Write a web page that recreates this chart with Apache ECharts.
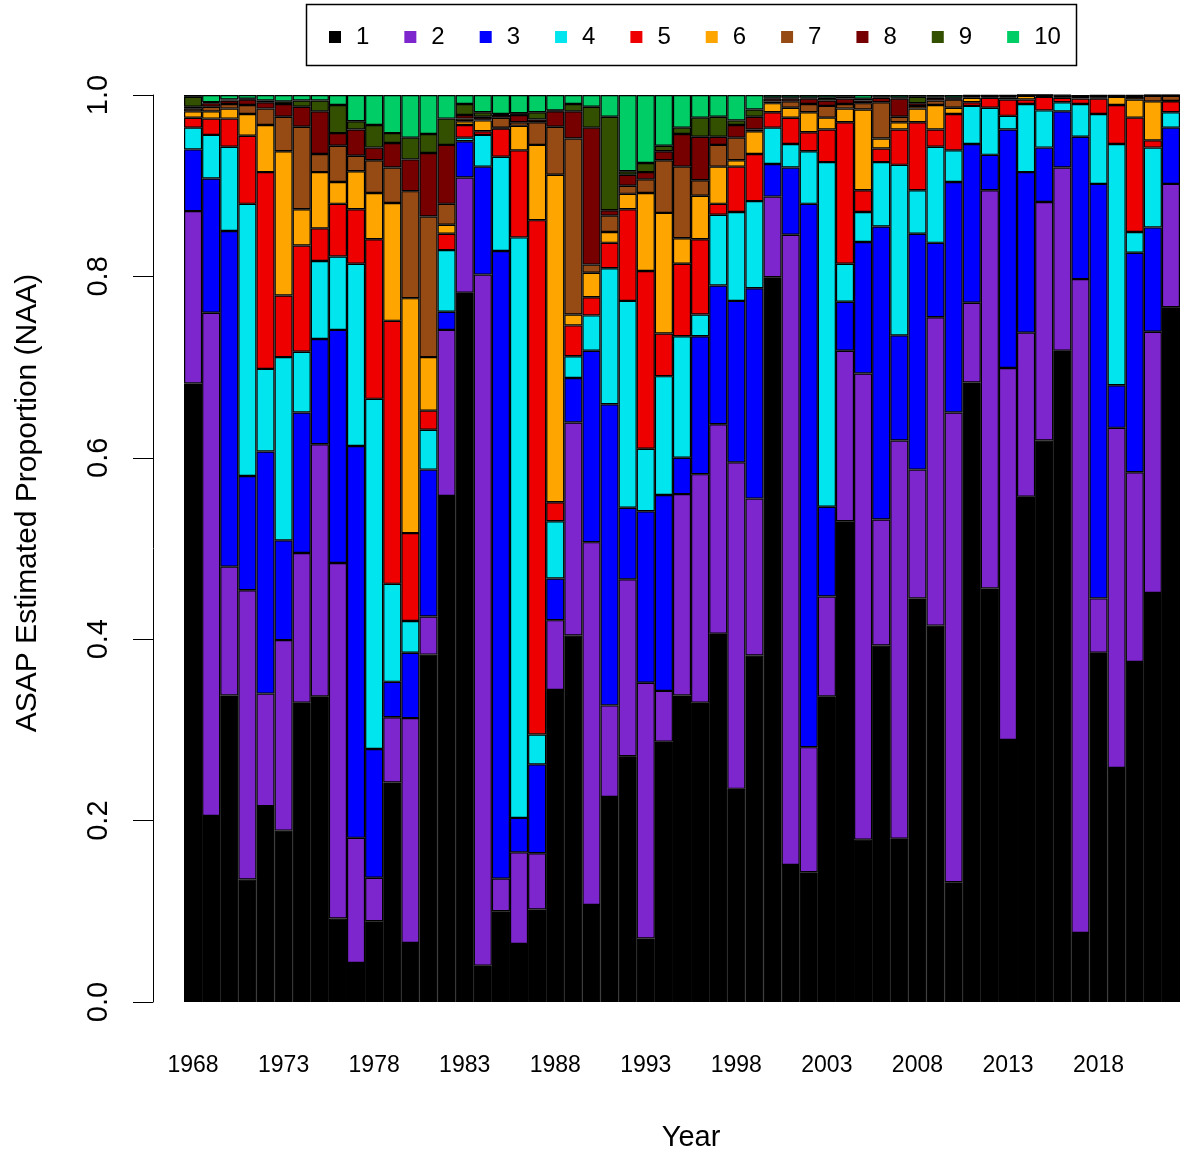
<!DOCTYPE html>
<html><head><meta charset="utf-8">
<script src="https://cdn.jsdelivr.net/npm/echarts/dist/echarts.min.js"></script>
<style>html,body{margin:0;padding:0;background:#fff}#c{width:1182px;height:1156px}</style>
</head><body><div id="c"></div>
<script>
const years = [1968,1969,1970,1971,1972,1973,1974,1975,1976,1977,1978,1979,1980,1981,1982,1983,1984,1985,1986,1987,
1988,1989,1990,1991,1992,1993,1994,1995,1996,1997,1998,1999,2000,2001,2002,2003,2004,2005,2006,2007,
2008,2009,2010,2011,2012,2013,2014,2015,2016,2017,2018,2019,2020,2021,2022];
const ageNames = ['1','2','3','4','5','6','7','8','9','10'];
const ageColors = ['#000000','#7D26CD','#0000FF','#00E5EE','#EE0000','#FFA500','#964B14','#760000','#325000','#00CD66'];
const yTicks = [0, 0.2, 0.4, 0.6, 0.8, 1.0];

const age1 = [0.682,0.205,0.338,0.135,0.216,0.189,0.330,0.337,0.092,0.043,0.089,0.242,0.065,0.383,0.558,0.782,0.040,0.100,0.064,0.102,
0.344,0.404,0.107,0.226,0.271,0.070,0.287,0.338,0.330,0.406,0.235,0.382,0.799,0.151,0.143,0.337,0.530,0.179,0.393,0.180,
0.445,0.415,0.132,0.683,0.456,0.289,0.557,0.619,0.718,0.076,0.385,0.258,0.375,0.451,0.766];
const age2 = [0.190,0.555,0.142,0.319,0.124,0.210,0.165,0.278,0.392,0.138,0.048,0.072,0.248,0.042,0.183,0.127,0.762,0.036,0.101,0.062,
0.077,0.235,0.400,0.101,0.195,0.282,0.056,0.222,0.252,0.231,0.360,0.173,0.089,0.695,0.138,0.110,0.188,0.514,0.139,0.439,
0.142,0.340,0.518,0.088,0.439,0.410,0.181,0.263,0.202,0.721,0.060,0.375,0.209,0.288,0.136];
const age3 = [0.068,0.148,0.370,0.126,0.267,0.110,0.155,0.116,0.257,0.432,0.142,0.039,0.072,0.162,0.020,0.040,0.119,0.692,0.038,0.098,
0.046,0.049,0.211,0.332,0.079,0.189,0.216,0.040,0.152,0.153,0.178,0.232,0.036,0.074,0.599,0.099,0.054,0.145,0.323,0.116,
0.260,0.082,0.254,0.175,0.039,0.263,0.177,0.060,0.062,0.157,0.457,0.047,0.242,0.115,0.062];
const age4 = [0.024,0.048,0.093,0.300,0.091,0.202,0.067,0.086,0.081,0.201,0.386,0.108,0.035,0.044,0.068,0.004,0.035,0.104,0.640,0.033,
0.063,0.024,0.039,0.150,0.228,0.069,0.131,0.134,0.024,0.078,0.098,0.096,0.040,0.026,0.058,0.380,0.042,0.033,0.071,0.188,
0.048,0.106,0.035,0.042,0.052,0.015,0.075,0.041,0.010,0.036,0.077,0.266,0.023,0.088,0.017];
const age5 = [0.011,0.018,0.031,0.075,0.217,0.068,0.117,0.036,0.058,0.060,0.176,0.290,0.097,0.021,0.018,0.014,0.004,0.031,0.096,0.567,
0.021,0.034,0.020,0.028,0.101,0.196,0.047,0.080,0.083,0.012,0.050,0.052,0.017,0.029,0.021,0.036,0.156,0.024,0.015,0.039,
0.075,0.019,0.040,0.004,0.011,0.018,0.005,0.015,0.005,0.006,0.017,0.043,0.126,0.008,0.012];
const age6 = [0.007,0.008,0.011,0.024,0.052,0.159,0.040,0.062,0.024,0.042,0.051,0.130,0.259,0.059,0.010,0.004,0.012,0.001,0.027,0.083,
0.361,0.012,0.027,0.012,0.017,0.086,0.133,0.028,0.048,0.041,0.007,0.025,0.010,0.011,0.022,0.013,0.015,0.089,0.011,0.008,
0.015,0.027,0.007,0.005,0.001,0.002,0.004,0.001,0.001,0.002,0.001,0.009,0.020,0.043,0.0005];
const age7 = [0.003,0.005,0.005,0.010,0.018,0.038,0.091,0.020,0.040,0.017,0.036,0.039,0.118,0.155,0.023,0.003,0.001,0.011,0.004,0.025,
0.053,0.194,0.009,0.018,0.009,0.015,0.058,0.079,0.017,0.024,0.025,0.002,0.002,0.007,0.009,0.013,0.005,0.007,0.040,0.006,
0.003,0.005,0.009,0.001,0.0005,0.001,0.0005,0.0005,0.0006,0.0005,0.001,0.0005,0.003,0.006,0.0055];
const age8 = [0.002,0.004,0.004,0.006,0.007,0.014,0.022,0.047,0.014,0.029,0.014,0.027,0.035,0.070,0.065,0.004,0.003,0.003,0.008,0.003,
0.017,0.030,0.151,0.006,0.012,0.008,0.010,0.036,0.048,0.009,0.014,0.014,0.003,0.003,0.006,0.006,0.006,0.003,0.005,0.020,
0.003,0.003,0.001,0.001,0.0005,0.001,0.0003,0.0002,0.001,0.0004,0.001,0.0005,0.001,0.0005,0.0005];
const age9 = [0.011,0.001,0.001,0.001,0.002,0.003,0.007,0.012,0.031,0.009,0.025,0.011,0.024,0.021,0.029,0.012,0.005,0.001,0.002,0.008,
0.001,0.008,0.023,0.103,0.004,0.010,0.006,0.007,0.021,0.022,0.005,0.008,0.001,0.001,0.001,0.003,0.002,0.002,0.001,0.001,
0.007,0.001,0.001,0.0005,0.0005,0.0005,0.0001,0.0002,0.0005,0.0003,0.0005,0.0005,0.0005,0.0003,0.0003];
const age10 = [0.002,0.008,0.005,0.004,0.006,0.007,0.006,0.006,0.011,0.029,0.033,0.042,0.047,0.043,0.026,0.010,0.019,0.021,0.020,0.019,
0.017,0.010,0.013,0.024,0.084,0.075,0.056,0.036,0.025,0.024,0.028,0.016,0.003,0.003,0.003,0.003,0.002,0.004,0.002,0.003,
0.002,0.002,0.003,0.0005,0.0005,0.0005,0.0001,0.0001,0.0005,0.0003,0.0005,0.0005,0.0005,0.0002,0.0002];

const ageData = [age1, age2, age3, age4, age5, age6, age7, age8, age9, age10];
const FONT = '"Liberation Sans", Arial, Helvetica, sans-serif';

const chart = echarts.init(document.getElementById('c'), null, {renderer: 'canvas'});
chart.setOption({
  animation: false,
  backgroundColor: '#ffffff',
  grid: {left: 184, right: 2, top: 95, bottom: 154, containLabel: false},
  legend: {
    data: ageNames, left: 324, top: 20, orient: 'horizontal', icon: 'rect',
    itemWidth: 12, itemHeight: 12, itemGap: 35, selectedMode: false,
    itemStyle: {borderWidth: 0},
    textStyle: {fontSize: 24, color: '#000', fontFamily: FONT, lineHeight: 24, padding: [0, 0, 0, 10]}
  },
  xAxis: {
    type: 'category', data: years,
    axisLine: {show: false}, axisTick: {show: false},
    axisLabel: {interval: 4, fontSize: 23, color: '#000', fontFamily: FONT, margin: 52}
  },
  yAxis: {
    type: 'value', min: yTicks[0], max: yTicks[yTicks.length - 1], interval: 0.2, offset: 31,
    axisLine: {show: true, lineStyle: {color: '#000', width: 1}},
    axisTick: {show: true, length: 20, lineStyle: {color: '#000', width: 1}},
    splitLine: {show: false},
    axisLabel: {rotate: 90, fontSize: 29, color: '#000', fontFamily: FONT, margin: 40,
      formatter: v => v.toFixed(1)}
  },
  graphic: [
    {type: 'rect', shape: {x: 306.5, y: 4.5, width: 770, height: 61},
     style: {fill: 'transparent', stroke: '#000', lineWidth: 1.5}},
    {type: 'text', x: 28, y: 503, rotation: Math.PI / 2,
     style: {text: 'ASAP Estimated Proportion (NAA)', fontSize: 30, fontFamily: FONT, fill: '#000',
             align: 'center', verticalAlign: 'middle'}},
    {type: 'text', x: 691, y: 1138,
     style: {text: 'Year', fontSize: 29, fontFamily: FONT, fill: '#000', align: 'center', verticalAlign: 'middle'}}
  ],
  series: ageData.map((d, i) => ({
    name: ageNames[i], type: 'bar', stack: 'naa', data: d,
    barCategoryGap: '0%', barWidth: '100%',
    itemStyle: {color: ageColors[i], borderColor: '#000', borderWidth: 1.2},
    emphasis: {disabled: true}
  }))
});
</script>
</body></html>
